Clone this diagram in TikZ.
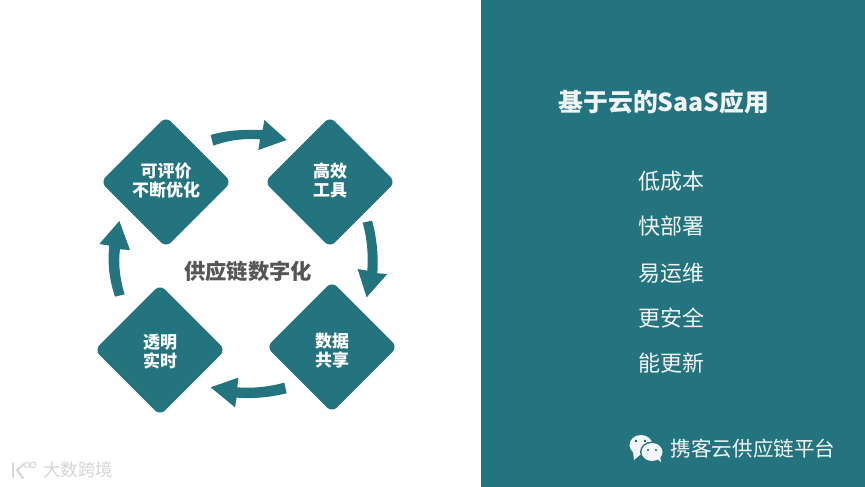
\documentclass[tikz,border=0pt]{standalone}
\usepackage{fontspec}
\setmainfont{Noto Sans CJK SC}
\usetikzlibrary{shapes.geometric}
\definecolor{teal1}{HTML}{24747F}
\definecolor{wm}{HTML}{D6D6D6}
\definecolor{ctext}{HTML}{555555}
\definecolor{paneltext}{HTML}{F2F6F6}
\newcommand{\dtext}[3]{\raisebox{#1}[0pt][0pt]{\begin{tabular}{@{}c@{}}#2\\[-2pt]#3\end{tabular}}}
\tikzset{
  dia/.style={shape=diamond,aspect=1,fill=teal1,inner sep=0pt,minimum width=131pt,minimum height=131pt,rounded corners=7pt,
    text=white,font=\fontsize{17}{20.6}\selectfont\bfseries},
  blockarrow/.style={fill=teal1,draw=none},
  item/.style={text=paneltext,font=\fontsize{22}{26}\selectfont},
}
\begin{document}
\begin{tikzpicture}[x=1pt,y=-1pt]
\useasboundingbox (0,0) rectangle (865,487);
\fill[white] (0,0) rectangle (481,487);
\fill[teal1] (481,0) rectangle (865,487);
\node[dia] (d1) at (166,182) {\dtext{-5pt}{可评价}{不断优化}};
\node[dia] (d2) at (330,182) {\dtext{-5pt}{高效}{工具}};
\node[dia] (d3) at (332,347) {\dtext{-10pt}{数据}{共享}};
\node[dia] (d4) at (160,350) {\dtext{-8pt}{透明}{实时}};
\node[text=ctext,font=\fontsize{21.3}{24}\selectfont\bfseries] (c) at (248,271) {供应链数字化};
\begin{scope}[shift={(80,100)},x=0.3333pt,y=-0.3333pt]
\fill[blockarrow] (392,105) .. controls (440,90) and (500,88) .. (548,90) -- (553,60) -- (620,120) -- (535,150) -- (540,118) .. controls (490,114) and (440,122) .. (400,137) -- cycle;
\fill[blockarrow] (876,362) .. controls (890,410) and (896,470) .. (892,520) -- (922,522) -- (860,592) -- (833,507) -- (862,512) .. controls (866,460) and (860,410) .. (848,368) -- cycle;
\fill[blockarrow] (620,880) .. controls (570,892) and (520,897) .. (470,893) -- (465,922) -- (392,862) -- (475,833) -- (472,862) .. controls (520,866) and (570,860) .. (613,848) -- cycle;
\fill[blockarrow] (105,590) .. controls (88,540) and (82,490) .. (88,437) -- (58,432) -- (118,363) -- (150,450) -- (120,448) .. controls (114,490) and (120,540) .. (134,583) -- cycle;
\end{scope}
\node[text=paneltext,font=\fontsize{24.8}{28}\selectfont\bfseries] (title) at (664,102) {基于云的SaaS应用};
\node[item] (i1) at (671,181.5) {低成本};
\node[item] (i2) at (671,226.5) {快部署};
\node[item] (i3) at (671,273.5) {易运维};
\node[item] (i4) at (671,318.5) {更安全};
\node[item] (i5) at (671,363.5) {能更新};
\node[text=paneltext,font=\fontsize{20.6}{24}\selectfont] (brand) at (753,449) {携客云供应链平台};
% wechat icon
\fill[paneltext] (641,445) ellipse (11.5 and 10);
\fill[paneltext] (633,452) -- (634,460) -- (641,454) -- cycle;
\fill[teal1] (652,452) ellipse (12 and 10.5);
\fill[paneltext] (652,452) ellipse (10.5 and 9);
\fill[paneltext] (656,458) -- (661,462) -- (660,455) -- cycle;
\fill[teal1!80!black] (636,441) circle (1.3) (645,441) circle (1.3) (648,450) circle (1.1) (656,450) circle (1.1);
% watermark
\node[text=wm,font=\fontsize{17.5}{20}\selectfont] (wmk) at (78,470) {大数跨境};
\draw[wm,line width=2pt,line cap=round] (13,463) -- (13,477);
\draw[wm,line width=2pt,line cap=round] (24,464) -- (17,470) -- (23,478);
\draw[wm,line width=1pt] (27,465) circle (2.8) (33,465) circle (2.8);
\end{tikzpicture}
\end{document}
